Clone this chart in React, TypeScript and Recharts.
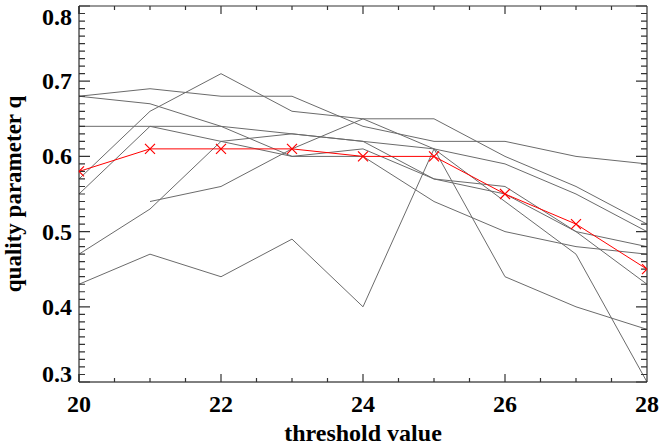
import React from "react";
import { LineChart, Line, XAxis, YAxis } from "recharts";

// threshold values on the x axis
const thresholds = [20, 21, 22, 23, 24, 25, 26, 27, 28];

// individual runs (grey), quality parameter q
const run1 = [0.57, 0.66, 0.71, 0.66, 0.65, 0.65, 0.6, 0.56, 0.51];
const run2 = [0.68, 0.69, 0.68, 0.68, 0.64, 0.62, 0.62, 0.6, 0.59];
const run3 = [0.68, 0.67, 0.64, 0.6, 0.6, 0.54, 0.5, 0.48, 0.47];
const run4 = [0.64, 0.64, 0.64, 0.63, 0.62, 0.61, 0.59, 0.55, 0.5];
const run5 = [0.55, 0.64, 0.62, 0.6, 0.61, 0.57, 0.55, 0.5, 0.43];
const run6 = [0.47, 0.53, 0.62, 0.63, 0.62, 0.57, 0.56, 0.5, 0.48];
const run7 = [null, 0.54, 0.56, 0.61, 0.65, 0.61, 0.54, 0.47, 0.3];
const run8 = [0.43, 0.47, 0.44, 0.49, 0.4, 0.61, 0.44, 0.4, 0.37];

// mean curve (red, crosses)
const meanQ = [0.58, 0.61, 0.61, 0.61, 0.6, 0.6, 0.55, 0.51, 0.45];

const runs = [run1, run2, run3, run4, run5, run6, run7, run8];

const xMajor = [20, 22, 24, 26, 28];
const yMajor = [0.3, 0.4, 0.5, 0.6, 0.7, 0.8];
const X0 = 20, X1 = 28, Y0 = 0.3, Y1 = 0.8;

const W = 660, H = 447;
const MARGIN = { top: 6, right: 13, bottom: 0, left: 0 };

const data = thresholds.map((t, i) => {
  const row: any = { t, mean: meanQ[i] };
  runs.forEach((r, k) => {
    row["r" + k] = r[i];
  });
  return row;
});

// minor ticks between major ones
function subdivide(majors: number[], n: number) {
  const out: number[] = [];
  for (let i = 0; i < majors.length - 1; i++) {
    const step = (majors[i + 1] - majors[i]) / n;
    for (let j = 0; j < n; j++) out.push(+(majors[i] + j * step).toFixed(4));
  }
  out.push(majors[majors.length - 1]);
  return out;
}

const xTicks = subdivide(xMajor, 4);
const yTicks = subdivide(yMajor, 10);

const FONT = "'Liberation Serif', 'Times New Roman', serif";
const GREY = "#6b6b6b";
const TICK = "#333";

function isMajor(v: number, majors: number[]) {
  return majors.some((m) => Math.abs(m - v) < 1e-6);
}

// bottom/top frame with inward x ticks, drawn in the x axis label layer
function XFrame(p: any) {
  const vb = p.viewBox;
  const left = vb.x, right = vb.x + vb.width, bottom = vb.y, top = MARGIN.top;
  let d = `M${left},${top}L${right},${top}M${right},${top}L${right},${bottom}`;
  xTicks.forEach((v) => {
    const px = left + ((v - X0) / (X1 - X0)) * vb.width;
    const l = isMajor(v, xMajor) ? 8 : 4;
    d += `M${px},${bottom}L${px},${bottom - l}M${px},${top}L${px},${top + l}`;
  });
  return (
    <g>
      <path d={d} stroke={TICK} strokeWidth={1.2} fill="none" />
      <text x={left + vb.width / 2} y={vb.y + 59} textAnchor="middle"
        fontFamily={FONT} fontWeight="bold" fontSize={24} fill="#000">
        threshold value
      </text>
    </g>
  );
}

// left/right inward y ticks, drawn in the y axis label layer
function YFrame(p: any) {
  const vb = p.viewBox;
  const left = vb.x + vb.width, right = W - MARGIN.right;
  let d = "";
  yTicks.forEach((v) => {
    const py = vb.y + ((Y1 - v) / (Y1 - Y0)) * vb.height;
    const l = isMajor(v, yMajor) ? 11 : 6;
    d += `M${left},${py}L${left + l},${py}M${right},${py}L${right - l},${py}`;
  });
  const cx = 21;
  const cy = vb.y + vb.height / 2;
  return (
    <g>
      <path d={d} stroke={TICK} strokeWidth={1.2} fill="none" />
      <text x={cx} y={cy} textAnchor="middle" transform={`rotate(-90 ${cx} ${cy})`}
        fontFamily={FONT} fontWeight="bold" fontSize={23} fill="#000">
        quality parameter q
      </text>
    </g>
  );
}

function XLabelTick(props: any) {
  const { x, y, payload } = props;
  return (
    <text x={x} y={y + 30} textAnchor="middle" fill="#000"
      fontFamily={FONT} fontWeight="bold" fontSize={24}>
      {String(payload.value)}
    </text>
  );
}

function YLabelTick(props: any) {
  const { x, y, payload } = props;
  const v = payload.value;
  let dy = 8;
  if (v === yMajor[yMajor.length - 1]) dy = 16;
  if (v === yMajor[0]) dy = 0;
  return (
    <text x={x - 7} y={y + dy} textAnchor="end" fill="#000"
      fontFamily={FONT} fontWeight="bold" fontSize={24}>
      {v.toFixed(1)}
    </text>
  );
}

// red cross; the end points are cut by the plot frame
const CrossDot = (props: any) => {
  const { cx, cy, index } = props;
  if (cx == null || cy == null) return null;
  const s = 5;
  let d = `M${cx - s},${cy - s}L${cx + s},${cy + s}M${cx - s},${cy + s}L${cx + s},${cy - s}`;
  if (index === 0) d = `M${cx},${cy}L${cx + s},${cy + s}M${cx},${cy}L${cx + s},${cy - s}`;
  if (index === thresholds.length - 1) d = `M${cx - s},${cy - s}L${cx},${cy}M${cx - s},${cy + s}L${cx},${cy}`;
  return <path d={d} stroke="#ff0000" strokeWidth={1.2} fill="none" />;
};

export default function App() {
  return (
    <div style={{ position: "absolute", left: 0, top: 0, background: "#fff" }}>
      <LineChart width={W} height={H} data={data} margin={MARGIN}>
        <XAxis
          dataKey="t"
          type="number"
          domain={[X0, X1]}
          ticks={xMajor}
          height={65}
          stroke="#000"
          tickLine={false}
          tickSize={0}
          tickMargin={0}
          tick={<XLabelTick />}
          label={{ content: (p: any) => <XFrame {...p} /> }}
        />
        <YAxis
          type="number"
          domain={[Y0, Y1]}
          ticks={yMajor}
          width={79}
          stroke="#000"
          tickLine={false}
          tickSize={0}
          tickMargin={0}
          tick={<YLabelTick />}
          label={{ content: (p: any) => <YFrame {...p} /> }}
        />
        {runs.map((_, k) => (
          <Line
            key={k}
            dataKey={"r" + k}
            stroke={GREY}
            strokeWidth={1}
            dot={false}
            activeDot={false}
            isAnimationActive={false}
          />
        ))}
        <Line
          dataKey="mean"
          stroke="#ff0000"
          strokeWidth={1}
          dot={<CrossDot />}
          activeDot={false}
          isAnimationActive={false}
        />
      </LineChart>
    </div>
  );
}
